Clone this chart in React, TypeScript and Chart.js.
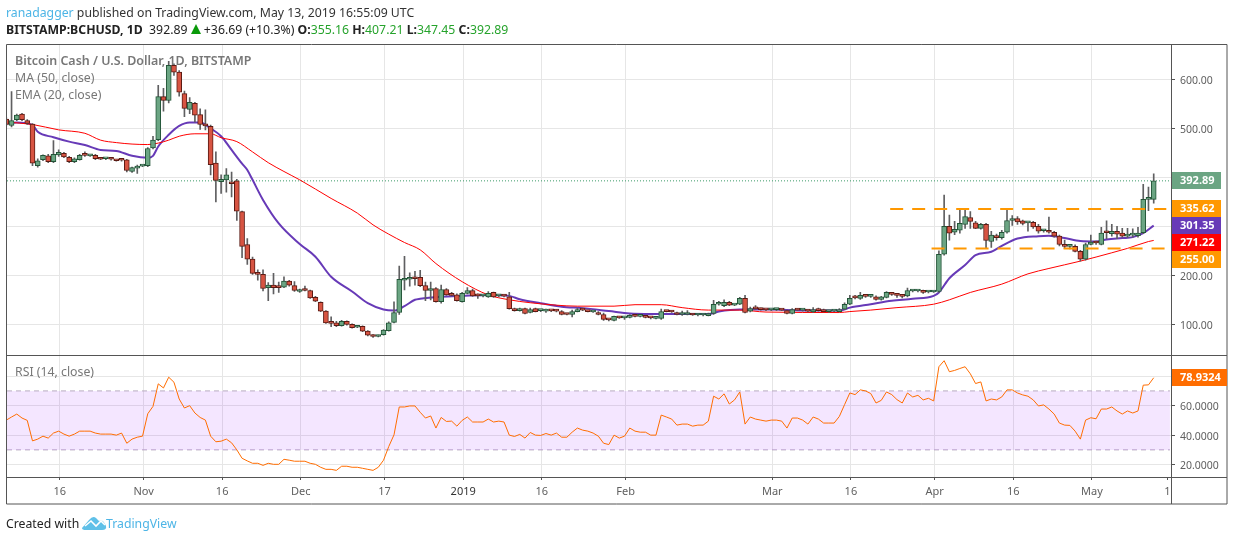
import React, { useEffect, useRef } from "react";
import { Chart, registerables } from "chart.js";

Chart.register(...registerables);

// Daily candles, 6 Oct 2018 (day 0) to 13 May 2019 (day 219).
const opens = [
  519,506,518,529,516,509,424,436,444,432,
  446,449,441,432,436,446,444,445,440,438,
  438,435,436,436,412,419,423,424,460,477,
  565,557,629,615,571,539,551,528,509,504,
  429,391,395,390,393,330,263,233,204,202,
  175,180,176,176,188,179,167,171,169,155,
  145,127,104,103,97,106,100,94,96,86,
  78,75,79,87,104,124,190,192,194,196,
  179,169,173,146,171,161,160,146,163,169,
  159,158,156,165,158,158,156,132,128,132,
  124,132,128,127,128,128,126,121,120,126,
  130,127,125,124,120,110,108,114,113,114,
  120,116,115,114,112,112,127,126,124,120,
  120,120,119,119,117.5,122,141,138,145,139,
  141,153,127,132,131,130,129.5,130,130,128,
  122,130,129,128,125,132,130,126,127,126,
  131,141,156,153,158,157,156,151,155,162,
  160,158,158,168,168,168,166,166,167,243,
  300,288,292,304,318,307,296,304,269,281,
  277,288,312,316,311,307,308,300,291,292,
  288,280,263,259,259,249,233,263,268,263,
  288,285,290,286,280,282,281,287,355,355.16,
];
const closes = [
  508,516,527,518,510,429,434,445,432,447,
  451,442,432,438,445,445,445,438,437,438,
  437,434,435,414,420,423,424,459,476,565,
  557,629,615,574,541,553,527,508,505,426,
  394,396,405,387,331,259,233,204,202,173,
  180,175,175,188,180,169,169,169,154,147,
  127,103,102,97,106,99.5,93,96,86,78,
  75,77,88,103,124,192,192,194,193,179,
  169,172,146,171,160,159,148,163,169,158,
  158,158,163,156,158,157.5,132,128,132,122,
  130,126,128,128,127.5,127,120,120,126,130,
  129,126,125,120,110,109,116,113,113,118,
  116,116,114,113,112.5,126,126,125,120,120,
  121,119,119,119.5,122,141,141.5,145,139,140,
  153,124,132,131.5,130,129.5,130,130,129,122,
  130,129,129,127,130,128,126,126,127,130,
  141,153,154,159,157,157,151,156,165,161,
  159,157,169,168,168,165,166,167,243,300,
  286,294,306,320,310,296,304,271,282,277,
  288,312,316,309,306,307,299,290,291,288,
  280,263,259,259,249,233,263,268,266,286,
  287,290,284,280,284,282,286,355,355.5,392.89,
];
const highs = [
  522,575,529,531,518,510,438,446,447,475,
  456,451,443,440,447,452,446,447,441,439,
  439,436,437,437,421,425,425,461,484,588,
  582,637,632,618,576,563,553,540,538,507,
  452,405,418,411,396,331,275,237,211,211,
  185,204,186,197,190,187,172,178,170,157,
  146,128,115,106,108,107,101,97,97,87,
  79,78,89,105,146,219,239,205,208,210,
  186,186,175,180,173,165,162,165,175,172,
  162,160,167,166,159,160,165,133,133,133,
  133,133,129,131,129,130,128,122,129,133,
  133,128,126,126,123,111,117,116,115,120,
  121,117,116,115,114,131,128,128,125,127,
  128,121,121,120,123,149,147,150,147,141,
  155,159,135,138,133,131,131,131,131,129,
  132,132,131,130,134,133,131,127,128,132,
  144,159,159,165,160,159,158,157,167,164,
  161,159,174,170,169,170,167,168,250,364,
  323,310,334,333,330,310,306,306,290,284,
  292,335,322,320,313,309,310,304,293,319,
  290,282,272,262,262,251,266,282,270,298,
  311,304,300,296,296,295,298,386,380,407.21,
];
const lows = [
  505,503,516,516,508,424,421,434,430,430,
  443,440,430,430,435,443,443,436,436,436,
  435,433,433,411,410,408,422,422,458,475,
  535,552,608,566,524,530,513,498,497,405,
  350,367,370,360,312,236,222,202,190,168,
  148,162,165,175,178,167,165,168,153,146,
  126,102,95,95,96,98,92,93,85,76,
  73,74,78,86,103,120,170,178,180,177,
  148,150,145,143,159,158,147,145,162,157,
  153,156,155,155,156,156,131,127,127,121,
  123,125,126,124,126,125,119,119,115,125,
  128,125,124,119,108,107,107,112,110,113,
  115,115,113,111,111,110,125,124,119,118,
  119,118,117,117,117,120,139,136,138,138,
  140,123,125,130,129,128,128,128,128,121,
  121,128,127,125,124,127,125,124,126,125,
  130,140,152,151,155,155,149,149,154,159,
  155,154,156,166,166,163,164,165,165,241,
  272,283,286,296,296,295,294,255,257,272,
  274,286,302,304,303,290,296,286,288,286,
  278,260,255,254,248,229,231,262,263,262,
  275,280,275,278,277,278,278,285,332,347.45,
];

// Moving averages, read at the days where the curve could be read.
const emaDays = [0,2,5,6,9,12,15,18,21,24,27,28,29,31,33,35,37,39,41,43,45,46,47,49,52,56,59,62,66,69,72,74,76,78,79,83,87,92,96,98,102,106,110,115,119,123,128,134,136,140,146,152,159,161,165,169,173,177,178,180,183,185,188,190,193,197,199,202,205,208,210,213,215,217,219];
const emaValues = [510,512,507,493,482,473,466,456,454,444,440,444,463,487,505,512,512,500,484,456,428,415,395,354,306,264,238,197,167,143,130,128,137,150,152,156,158,160,158,151,143,136,133,127,122,121,121,121,126,130,130,128,128,134,141,148,152,158,165,194,221,241,248,260,275,280,281,276,270,269,273,276,278,286,301.35];
const maDays = [0,5,10,15,18,21,24,27,29,31,33,36,39,41,44,47,50,53,56,62,67,70,73,76,79,82,87,92,96,100,105,109,116,120,125,129,134,140,145,159,161,165,170,177,180,184,190,195,199,205,211,214,218,219];
const maValues = [513,508,497,490,476,471,468,467,470,476,484,489,489,481,473,452,430,412,395,357,327,303,284,267,252,224,187,160,150,144,139,137,137,140,140,134,129,129,125,124,126,129,134,141,150,165,182,203,214,229,246,255,269,271.22];

const rsiValues = [
  50.2,52.3,54.3,51.6,50,36.1,37.3,39.3,38,41.4,
  42.7,40.7,39.3,40.7,42.7,42.7,42.7,41.4,40.7,40.7,
  40.7,40,41.4,34.5,37.3,38.6,39.3,54.5,59.5,74.8,
  72,79.3,75.9,64.5,58.4,60,55,52,50.2,39.3,
  35.5,35.9,37.3,34.8,30,24.3,22.5,20.9,20.9,19.5,
  20.9,20.2,20.2,23.6,23,22.3,22.3,22.3,20.9,20.2,
  18.2,16.8,16.8,16.1,18.9,18.9,18.2,18.2,17.5,16.8,
  16.1,18.2,23,32.3,40.2,59.1,59.1,59.8,59.8,55.5,
  51.6,53,44.8,52,49.3,49.5,46.1,50,52.3,48.9,
  48.9,48.9,50.9,48.9,49.5,48.9,40,39.1,40.5,38,
  41.8,40,39.8,41.1,40,41.4,38.6,38.6,42,44.8,
  43.4,42.7,41.4,39.3,34.5,33.6,40,38,39.3,44.8,
  42.7,42,42,40,40,53.6,52.3,50.9,46.8,47.5,
  47.5,46.1,46.8,46.8,49.5,66.4,64.5,68,61.1,63.9,
  69.3,47.5,52.3,50.9,50.2,49.5,50.2,50.2,49.5,44.8,
  51.6,51.6,50.2,47.5,52.3,50.9,48.2,48.2,48.2,52.7,
  60.7,68.6,67.5,70.7,70,68.2,61.8,63.6,69.3,67.5,
  64.1,61.8,68.6,65.9,67,63.9,65,63.2,86.4,90.5,
  83,83.9,85.2,86.4,81.6,75,76.1,63.2,64.5,63.9,
  65.9,70.7,70.7,68.6,67.3,66.4,63.9,59.8,60.5,57.7,
  54.3,48.2,46.8,46.6,42.7,37.3,50.2,51.8,51.1,57.7,
  57.7,59.1,56.4,54.3,56.4,55,56.4,73.9,74.1,78.93,
];

const tickDays = [10,26,41,56,72,87,102,118,146,161,177,192,207,221.4];
const tickLabels = ["16","Nov","16","Dec","17","2019","16","Feb","Mar","16","Apr","16","May","1"];
const priceTicks = [100,200,300,400,500,600];
const rsiTicks = [20,40,60,80];

const lastClose = 392.89;
const resistance = 335.62;
const support = 255;
const resistanceFrom = 168.7;
const supportFrom = 176.6;
const levelsTo = 221.4;
const rsiUpper = 70;
const rsiLower = 30;
const emaLast = 301.35;
const maLast = 271.22;
const rsiLast = 78.9324;

const FONT = '"Noto Sans", sans-serif';
const X_MIN = 0.134;
const X_MAX = 222.3;

const days = opens.map((_, i) => i);

const framePlugin = {
  id: "tvFrame",
  afterDraw(chart: any) {
    const { ctx, chartArea: a, scales } = chart;
    const outerRight = a.right + 56;
    const outerBottom = a.bottom + 27;
    ctx.save();
    ctx.strokeStyle = "#555555";
    ctx.lineWidth = 1;
    ctx.beginPath();
    ctx.rect(a.left - 0.5, a.top - 0.5, outerRight - a.left + 0.5, outerBottom - a.top + 0.5);
    const sep = Math.round(scales.y.bottom) + 0.5;
    ctx.moveTo(a.left, sep);
    ctx.lineTo(outerRight, sep);
    ctx.moveTo(a.left, a.bottom + 0.5);
    ctx.lineTo(outerRight, a.bottom + 0.5);
    ctx.moveTo(a.right + 0.5, a.top);
    ctx.lineTo(a.right + 0.5, outerBottom);
    ctx.stroke();

    const tag = (cy: number, w: number, bg: string, text: string) => {
      const h = 17;
      ctx.fillStyle = bg;
      ctx.fillRect(a.right + 1, Math.round(cy - h / 2), w, h);
      ctx.fillStyle = "#ffffff";
      ctx.font = `bold 11px ${FONT}`;
      ctx.textAlign = "left";
      ctx.textBaseline = "middle";
      ctx.fillText(text, a.right + 9, Math.round(cy - h / 2) + h / 2 + 0.5);
    };
    const y = scales.y;
    const baseY = y.getPixelForValue(resistance);
    tag(y.getPixelForValue(lastClose), 49, "#6ba583", lastClose.toFixed(2));
    tag(baseY, 49, "#ff9800", resistance.toFixed(2));
    tag(baseY + 17, 49, "#673ab7", emaLast.toFixed(2));
    tag(baseY + 34, 49, "#ff0000", maLast.toFixed(2));
    tag(baseY + 51, 49, "#ff9800", support.toFixed(2));
    tag(scales.y2.getPixelForValue(rsiLast), 55, "#ff6d00", rsiLast.toFixed(4));
    ctx.restore();
  },
};

function hline(value: number, from: number, to: number) {
  return [
    { x: from, y: value },
    { x: to, y: value },
  ];
}

export default function App() {
  const ref = useRef<HTMLCanvasElement | null>(null);

  useEffect(() => {
    const canvas = ref.current;
    if (!canvas) return;
    const chart = new Chart(canvas, {
      type: "bar",
      data: {
        datasets: [
          {
            type: "line",
            label: "Resistance",
            data: hline(resistance, resistanceFrom, levelsTo),
            borderColor: "#ff9800",
            borderWidth: 2,
            borderDash: [13, 9],
            pointRadius: 0,
            yAxisID: "y",
            order: 0,
          },
          {
            type: "line",
            label: "Support",
            data: hline(support, supportFrom, levelsTo),
            borderColor: "#ff9800",
            borderWidth: 2,
            borderDash: [13, 9],
            pointRadius: 0,
            yAxisID: "y",
            order: 0,
          },
          {
            type: "bar",
            label: "Body",
            data: days.map((d) => ({ x: d, y: [opens[d], closes[d]] })),
            backgroundColor: days.map((d) => (closes[d] >= opens[d] ? "#6ba583" : "#d75442")),
            borderColor: days.map((d) => (closes[d] >= opens[d] ? "#225437" : "#5b1a13")),
            borderWidth: 1,
            borderSkipped: false,
            barThickness: 5,
            minBarLength: 2,
            grouped: false,
            yAxisID: "y",
            order: 1,
          },
          {
            type: "bar",
            label: "Wick",
            data: days.map((d) => ({ x: d, y: [lows[d], highs[d]] })),
            backgroundColor: "#5f5f61",
            borderWidth: 0,
            barThickness: 1,
            grouped: false,
            yAxisID: "y",
            order: 2,
          },
          {
            type: "line",
            label: "MA (50, close)",
            data: maDays.map((d, i) => ({ x: d, y: maValues[i] })),
            borderColor: "#ff0000",
            borderWidth: 1,
            pointRadius: 0,
            cubicInterpolationMode: "monotone",
            yAxisID: "y",
            order: 3,
          },
          {
            type: "line",
            label: "EMA (20, close)",
            data: emaDays.map((d, i) => ({ x: d, y: emaValues[i] })),
            borderColor: "#673ab7",
            borderWidth: 2,
            pointRadius: 0,
            cubicInterpolationMode: "monotone",
            yAxisID: "y",
            order: 3,
          },
          {
            type: "line",
            label: "Last",
            data: hline(lastClose, X_MIN, X_MAX),
            borderColor: "#3c9a68",
            borderWidth: 1,
            borderDash: [1, 2],
            pointRadius: 0,
            yAxisID: "y",
            order: 4,
          },
          {
            type: "line",
            label: "RSI (14, close)",
            data: days.map((d) => ({ x: d, y: rsiValues[d] })),
            borderColor: "#ff6d00",
            borderWidth: 1,
            pointRadius: 0,
            yAxisID: "y2",
            order: 0,
          },
          {
            type: "line",
            label: "RSI upper",
            data: hline(rsiUpper, X_MIN, 222.1),
            borderColor: "#b8abc0",
            borderWidth: 1,
            borderDash: [5, 4],
            pointRadius: 0,
            fill: "+1",
            backgroundColor: "rgba(153,21,255,0.105)",
            yAxisID: "y2",
            order: 1,
          },
          {
            type: "line",
            label: "RSI lower",
            data: hline(rsiLower, X_MIN, 222.1),
            borderColor: "#b8abc0",
            borderWidth: 1,
            borderDash: [5, 4],
            pointRadius: 0,
            yAxisID: "y2",
            order: 1,
          },
        ],
      } as any,
      options: {
        responsive: false,
        animation: false,
        devicePixelRatio: 1,
        parsing: undefined,
        events: [],
        layout: { padding: { left: 7, top: 45, right: 7, bottom: 37 } },
        plugins: { legend: { display: false }, tooltip: { enabled: false }, title: { display: false } },
        scales: {
          x: {
            type: "linear",
            position: "bottom",
            offset: false,
            min: X_MIN,
            max: X_MAX,
            border: { display: false },
            grid: {
              offset: false,
              color: (c: any) => (c.tick && c.tick.value > 221 ? "transparent" : "#e6e6e6"),
              tickColor: "#555555",
              tickLength: 3,
              lineWidth: 1,
            },
            ticks: {
              autoSkip: false,
              maxRotation: 0,
              padding: 5,
              font: { family: FONT, size: 11 },
              color: (c: any) => (c.index === 5 ? "#333333" : "#606060"),
              callback: (_v: any, i: number) => tickLabels[i],
            },
            afterBuildTicks: (s: any) => {
              s.ticks = tickDays.map((d) => ({ value: d + 0.2 }));
            },
            afterFit: (s: any) => {
              s.height = 27;
            },
          },
          y: {
            type: "linear",
            position: "right",
            stack: "panes",
            stackWeight: 309.5,
            min: 38.3,
            max: 670.3,
            border: { display: false },
            grid: { color: "#e6e6e6", tickColor: "#555555", tickLength: 4, lineWidth: 1 },
            ticks: {
              padding: 5,
              font: { family: FONT, size: 10.5, lineHeight: "3px" },
              color: "#606060",
              callback: (v: any) => ["", Number(v).toFixed(2)],
            },
            afterBuildTicks: (s: any) => {
              s.ticks = priceTicks.map((value) => ({ value }));
            },
            afterFit: (s: any) => {
              s.width = 56;
            },
          },
          y2: {
            type: "linear",
            position: "right",
            stack: "panes",
            stackWeight: 122.5,
            min: 11.6,
            max: 94.7,
            border: { display: false },
            grid: { color: "#e6e6e6", tickColor: "#555555", tickLength: 4, lineWidth: 1 },
            ticks: {
              padding: 5,
              font: { family: FONT, size: 10.5, lineHeight: "3px" },
              color: "#606060",
              callback: (v: any) => ["", Number(v).toFixed(4)],
            },
            afterBuildTicks: (s: any) => {
              s.ticks = rsiTicks.map((value) => ({ value }));
            },
            afterFit: (s: any) => {
              s.width = 56;
            },
          },
        },
      } as any,
      plugins: [framePlugin],
    } as any);
    return () => chart.destroy();
  }, []);

  const abs = (left: number, top: number, extra: any = {}) => ({
    position: "absolute" as const,
    left,
    top,
    whiteSpace: "pre" as const,
    lineHeight: "16px",
    fontFamily: FONT,
    fontSize: 12.27,
    ...extra,
  });
  const green = { color: "#26a32c" };
  const paneLabel = { color: "#777777", fontSize: 12.3 };

  return (
    <div style={{ position: "fixed", left: 0, top: 0, width: 1234, height: 541, background: "#fff", overflow: "hidden" }}>
      <canvas ref={ref} width={1234} height={541} style={{ position: "absolute", left: 0, top: 0, display: "block" }} />
      <div style={abs(6, 5, { color: "#333" })}>
        <span style={{ color: "#4db5e6" }}>ranadagger</span> published on TradingView.com, May 13, 2019 16:55:09 UTC
      </div>
      <div style={abs(6, 22, { color: "#222" })}>
        <b>BITSTAMP:BCHUSD, 1D</b>  392.89 <span style={{ display: "inline-block", width: 0, height: 0, borderLeft: "5.5px solid transparent", borderRight: "5.5px solid transparent", borderBottom: "10px solid #0a9a0a" }} /> +36.69 (+10.3%) <b>O:</b><span style={green}>355.16</span> <b>H:</b><span style={green}>407.21</span> <b>L:</b><span style={green}>347.45</span> <b>C:</b><span style={green}>392.89</span>
      </div>
      <div style={abs(15, 53, { ...paneLabel, fontWeight: 600, fontSize: 12.46 })}>Bitcoin Cash / U.S. Dollar, 1D, BITSTAMP</div>
      <div style={abs(15, 70, paneLabel)}>MA (50, close)</div>
      <div style={abs(15, 87, paneLabel)}>EMA (20, close)</div>
      <div style={abs(15, 364, paneLabel)}>RSI (14, close)</div>
      <div style={abs(6, 516, { color: "#222" })}>Created with</div>
      <svg width="25" height="16" viewBox="0 0 25 16" style={{ position: "absolute", left: 82, top: 515 }}>
        <path d="M0 13 L7 5 Q11 0 14 3 L17 6 Q21 4 24 11 Q25 15 20 15 L4 15 Q0 15 0 13 Z" fill="#5fc0e8" />
        <path d="M3 11 L9 6 L14 11 L19 6 L23 10" fill="none" stroke="#ffffff" strokeWidth="1.6" />
      </svg>
      <div style={abs(106, 516, { color: "#4db5e6" })}>TradingView</div>
    </div>
  );
}
